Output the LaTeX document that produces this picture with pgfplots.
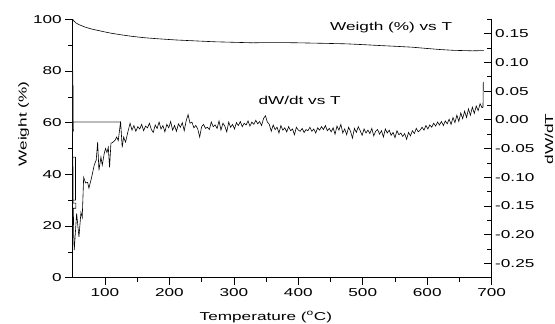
\documentclass[border=0pt]{standalone}
\usepackage{fontspec}
\setmainfont{Liberation Sans}[FakeStretch=1.5]
\usepackage{pgfplots}
\pgfplotsset{compat=1.18}
\newcommand\fs{\fontsize{11.5}{13}\selectfont}
\pgfplotsset{
  common/.style={
    scale only axis, width=419bp, height=258.4bp,
    xmin=50, xmax=700,
    major tick length=7.5bp, minor tick length=4.5bp,
    tick style={black, line width=0.6pt},
    axis line style={line width=0.7pt, -},
    ticklabel style={font=\fs},
    label style={font=\fs},
    /pgf/number format/assume math mode=true,
  }
}
\begin{document}
\begin{tikzpicture}
\begin{axis}[
  common,
  ymin=0, ymax=100,
  axis x line*=bottom, axis y line*=left,
  xtick={100,200,...,700}, minor x tick num=1,
  ytick={0,20,...,100}, minor y tick num=1,
  tick align=outside,
  xlabel={Temperature (\textsuperscript{o}C)},
  ylabel={Weight (\%)},
  xlabel style={at={(axis description cs:0.461,-0.152)}, anchor=center},
  ylabel style={at={(axis description cs:-0.117,0.595)}, anchor=center},
]
\coordinate (ll) at (rel axis cs:0,0);
\addplot[black, line width=0.6pt] coordinates {
(50,100) (52,99.3) (55,98.6) (60,97.9) (70,96.9) (80,96.2) (89,95.7) (100,95.1)
(110,94.6) (125,94.0) (142,93.4) (160,92.9) (180,92.5) (210,92.0) (244,91.6)
(270,91.3) (300,91.1) (330,90.9) (350,91.0) (371,91.0) (400,90.9) (440,90.7)
(475,90.5) (500,90.2) (530,89.8) (555,89.5) (577,89.2) (600,88.7) (620,88.3)
(640,88.0) (655,87.9) (670,87.8) (688,87.9)
};
\node[font=\fs] at (axis cs:544,97) {Weigth (\%) vs T};
\node[font=\fs] at (axis cs:402,68.8) {dW/dt vs T};
\end{axis}
\begin{axis}[
  common,
  ymin=-0.275, ymax=0.175,
  axis x line=none, axis y line*=right,
  ytick={-0.25,-0.20,-0.15,-0.10,-0.05,0,0.05,0.10,0.15},
  yticklabels={-0.25,-0.20,-0.15,-0.10,-0.05,0.00,0.05,0.10,0.15},
  minor ytick={-0.275,-0.225,-0.175,-0.125,-0.075,-0.025,0.025,0.075,0.125,0.175},
  tick align=inside,
  ylabel={dW/dT},
  ylabel style={at={(axis description cs:1.137,0.536)}, anchor=center},
]
\addplot[black!75, line width=0.8pt] coordinates {
(50,0.086) (50.2,-0.0235) (50.4,-0.004) (124.3,-0.004)
};
\addplot[black, line width=1pt] coordinates {
(50.3,0.060) (50.3,0.0) (50.5,-0.02)
};
\addplot[black, line width=0.6pt] coordinates {
(50.2,-0.065) (54.4,-0.065) (54.4,-0.140) (50.2,-0.140) (50.2,-0.065)
(50.6,-0.10) (50.6,-0.145) (55,-0.145) (55,-0.154) (51,-0.154) (51.5,-0.20)
(52.4,-0.227) (56.1,-0.163) (59.7,-0.204) (62.8,-0.161) (64.8,-0.170) (67,-0.100)
(70,-0.110) (73.2,-0.109) (75.2,-0.119) (79.4,-0.100) (83.4,-0.079) (86.5,-0.070)
(88.7,-0.039) (90.7,-0.088) (93.8,-0.065) (95.9,-0.079) (99,-0.058) (101,-0.050)
(103.1,-0.057) (105.2,-0.048) (107.2,-0.083) (109.3,-0.041) (112.4,-0.039)
(115.5,-0.036) (118.1,-0.030) (120.7,-0.036) (124.3,-0.003) (126.8,-0.048)
(129,-0.030) (132,-0.039) (135.2,-0.023) (139,-0.006)
(142,-0.018) (145,-0.010) (148,-0.020) (151,-0.012) (154,-0.016) (157,-0.008)
(160,-0.019) (163,-0.011) (166,-0.014) (169,-0.006) (172,-0.017) (175,-0.022)
(178,-0.009) (181,-0.015) (184,-0.004) (187,-0.016) (190,-0.010) (193,-0.021)
(196,-0.008) (199,-0.014) (202,-0.003) (205,-0.018) (208,-0.010) (211,-0.020)
(214,-0.007) (217,-0.013) (220,-0.005) (223,-0.019) (226,-0.002) (229,0.009)
(232,-0.006) (235,-0.004) (238,-0.014) (241,-0.010) (244,-0.016) (247,-0.030)
(250,-0.012) (253,-0.008) (256,-0.015) (259,-0.013) (262,-0.017) (265,-0.004)
(268,-0.012) (271,-0.009) (274,-0.015) (277,-0.002) (280,-0.018) (283,-0.006)
(286,-0.011) (289,-0.021) (292,-0.004) (295,-0.013) (298,-0.008) (301,-0.016)
(304,-0.005) (307,-0.010) (310,-0.003) (313,-0.012) (316,-0.006) (319,-0.009)
(322,-0.002) (325,-0.011) (328,-0.004) (331,-0.008) (334,-0.001) (337,-0.007)
(340,-0.003) (343,-0.010) (346,0.002) (349,0.007) (352,-0.004) (355,-0.008)
(358,-0.020) (361,-0.009) (364,-0.017) (367,-0.013) (370,-0.023) (373,-0.010)
(376,-0.018) (379,-0.014) (382,-0.021) (385,-0.012) (388,-0.019) (391,-0.016)
(394,-0.026) (397,-0.013) (400,-0.018) (403,-0.020) (406,-0.015) (409,-0.022)
(412,-0.017) (415,-0.019) (418,-0.013) (421,-0.020) (424,-0.016) (427,-0.023)
(430,-0.014) (433,-0.018) (436,-0.012) (439,-0.017) (442,-0.010) (445,-0.019)
(448,-0.015) (451,-0.021) (454,-0.014) (457,-0.025) (460,-0.011) (463,-0.018)
(466,-0.008) (469,-0.023) (472,-0.016) (475,-0.026) (478,-0.013) (481,-0.020)
(484,-0.032) (487,-0.015) (490,-0.022) (493,-0.012) (496,-0.019) (499,-0.027)
(502,-0.016) (505,-0.023) (508,-0.018) (511,-0.024) (514,-0.015) (517,-0.028)
(520,-0.020) (523,-0.017) (526,-0.025) (529,-0.019) (532,-0.030) (535,-0.016)
(538,-0.023) (541,-0.018) (544,-0.027) (547,-0.022) (550,-0.031) (553,-0.019)
(556,-0.026) (559,-0.023) (562,-0.029) (565,-0.024) (568,-0.034) (571,-0.022)
(574,-0.028) (577,-0.019) (580,-0.024) (583,-0.015) (586,-0.021) (589,-0.018)
(592,-0.013) (595,-0.018) (598,-0.010) (601,-0.016) (604,-0.009) (607,-0.013)
(610,-0.006) (613,-0.011) (616,-0.004) (619,-0.009) (622,-0.003) (625,-0.010)
(628,-0.002) (631,-0.007) (634,0.001) (637,-0.008) (640,0.004) (643,-0.005)
(646,0.008) (649,-0.003) (652,0.012) (655,0.002) (658,0.015) (661,0.004)
(664,0.019) (667,0.008) (670,0.022) (673,0.011) (676,0.024) (679,0.016)
(682,0.028) (685,0.021) (686.5,0.022) (687,0.066)
};
\end{axis}
\pgfresetboundingbox
\path (ll) ++(-72.7bp,-46.3bp) rectangle ++(555bp,324bp);
\end{tikzpicture}
\end{document}
